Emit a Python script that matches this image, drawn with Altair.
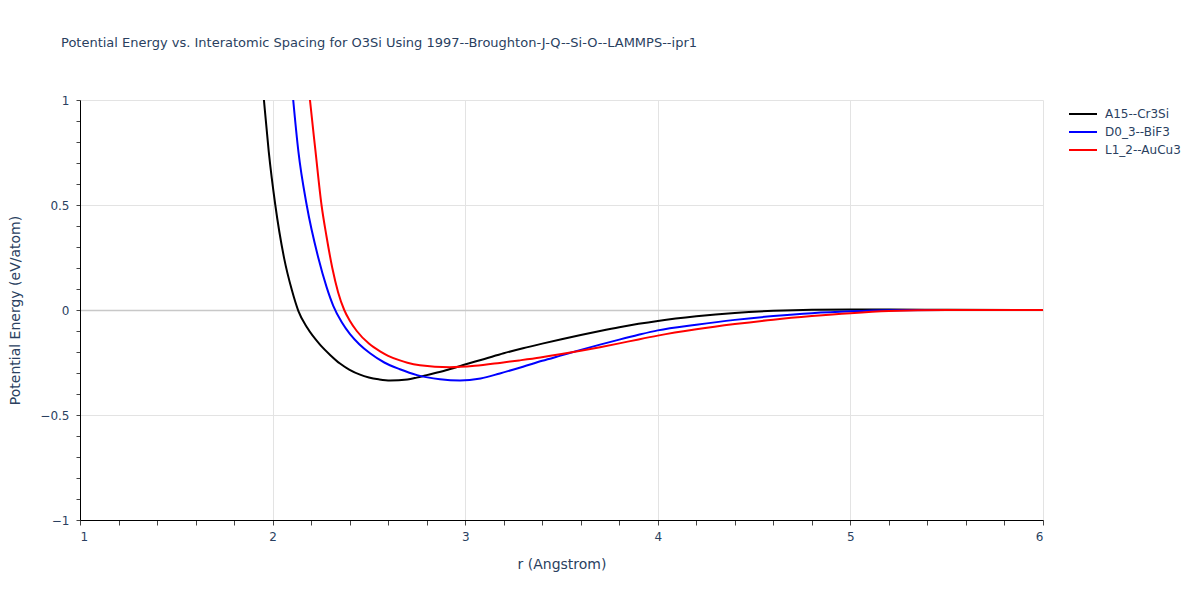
import altair as alt
import pandas as pd

# ---- data ----
r_a15 = [1.9, 1.955, 1.98, 2.014, 2.06, 2.1, 2.134, 2.18, 2.246, 2.3, 2.35, 2.4, 2.454, 2.5, 2.55, 2.61,
         2.7, 2.748, 2.8, 2.9, 2.99, 3.1, 3.2, 3.3, 3.4, 3.5, 3.6, 3.7, 3.8, 3.9, 4.0, 4.2, 4.4, 4.6, 4.8,
         5.0, 5.2, 5.5, 6.0]
e_a15 = [1.6, 1.0, 0.754, 0.5, 0.246, 0.095, -0.005, -0.085, -0.165, -0.215, -0.255, -0.285, -0.308,
         -0.321, -0.33, -0.336, -0.331, -0.322, -0.31, -0.287, -0.262, -0.233, -0.206, -0.182, -0.16, -0.139,
         -0.119, -0.1, -0.082, -0.066, -0.052, -0.03, -0.014, -0.004, 0.001, 0.002, 0.002, 0.001, 0.0]

r_d03 = [2.05, 2.107, 2.134, 2.177, 2.238, 2.28, 2.315, 2.36, 2.402, 2.45, 2.506, 2.58, 2.661, 2.75,
         2.869, 2.973, 3.08, 3.18, 3.3, 3.4, 3.5, 3.6, 3.7, 3.8, 3.9, 4.0, 4.2, 4.4, 4.6, 4.8, 5.0, 5.2,
         5.5, 6.0]
e_d03 = [1.65, 1.0, 0.754, 0.5, 0.246, 0.11, 0.02, -0.06, -0.115, -0.163, -0.206, -0.25, -0.282, -0.31,
         -0.33, -0.336, -0.326, -0.302, -0.27, -0.242, -0.216, -0.19, -0.165, -0.141, -0.118, -0.097,
         -0.07, -0.047, -0.029, -0.015, -0.006, -0.001, 0.0, 0.0]

r_l12 = [2.15, 2.194, 2.223, 2.254, 2.28, 2.31, 2.34, 2.372, 2.4, 2.437, 2.5, 2.558, 2.6, 2.661, 2.7,
         2.765, 2.92, 3.05, 3.18, 3.28, 3.39, 3.5, 3.6, 3.7, 3.8, 3.9, 4.0, 4.2, 4.4, 4.6, 4.8, 5.0, 5.2,
         5.5, 6.0]
e_l12 = [1.45, 1.0, 0.754, 0.5, 0.35, 0.2, 0.085, 0.0, -0.05, -0.1, -0.16, -0.197, -0.218, -0.24, -0.251,
         -0.263, -0.273, -0.266, -0.252, -0.24, -0.226, -0.21, -0.194, -0.177, -0.159, -0.14, -0.122,
         -0.092, -0.067, -0.046, -0.029, -0.015, -0.005, 0.0, 0.0]

series_names = ["A15--Cr3Si", "D0_3--BiF3", "L1_2--AuCu3"]
series_colors = ["#000000", "#0000ff", "#ff0000"]

x_tick_values = [round(1 + 0.2 * i, 1) for i in range(26)]
y_tick_values = [round(-1 + 0.1 * i, 1) for i in range(21)]

rows = []
for name, rs, es in zip(series_names, [r_a15, r_d03, r_l12], [e_a15, e_d03, e_l12]):
    for i, (r, e) in enumerate(zip(rs, es)):
        rows.append({"r": r, "energy": e, "structure": name, "order": i})
df = pd.DataFrame(rows)

FONT = "DejaVu Sans"
TXT = "#2a3f5f"
HALF = "abs(datum.value * 2 - round(datum.value * 2)) < 1e-6"

chart = alt.Chart(df).mark_line(strokeWidth=2, clip=True, interpolate="monotone").encode(
    x=alt.X("r:Q", title="r (Angstrom)",
            scale=alt.Scale(domain=[1, 6], nice=False, zero=False),
            axis=alt.Axis(values=x_tick_values,
                          labelExpr="abs(datum.value - round(datum.value)) < 1e-6 ? datum.label : ''",
                          format="~g",
                          gridOpacity={"condition": {"test": "abs(datum.value - round(datum.value)) < 1e-6", "value": 1}, "value": 0},
                          gridColor="#e3e3e3", tickSize=5, tickColor="#444444",
                          domainColor="#000000", domainWidth=1,
                          labelPadding=6, labelFontSize=12, labelColor=TXT, labelFont=FONT,
                          titleFontSize=14, titleColor=TXT, titleFont=FONT, titleFontWeight="normal",
                          titlePadding=15)),
    y=alt.Y("energy:Q", title="Potential Energy (eV/atom)",
            scale=alt.Scale(domain=[-1, 1], nice=False),
            axis=alt.Axis(values=y_tick_values, format="~g",
                          labelExpr=f"{HALF} ? replace(datum.label, '-', '\u2212') : ''",
                          gridOpacity={"condition": {"test": HALF, "value": 1}, "value": 0},
                          gridColor={"condition": {"test": "datum.value === 0", "value": "#c8c8c8"}, "value": "#e3e3e3"},
                          gridWidth={"condition": {"test": "datum.value === 0", "value": 1.5}, "value": 1},
                          tickSize=4, tickColor="#444444", domainColor="#000000", labelPadding=7,
                          labelFontSize=12, labelColor=TXT, labelFont=FONT,
                          titleFontSize=14, titleColor=TXT, titleFont=FONT, titleFontWeight="normal",
                          titlePadding=17)),
    color=alt.Color("structure:N", title=None,
                    scale=alt.Scale(domain=series_names, range=series_colors),
                    legend=alt.Legend(orient="none", legendX=988, legendY=6, padding=0,
                                      symbolType="stroke", symbolSize=784, symbolStrokeWidth=2,
                                      clipHeight=16, rowPadding=2,
                                      labelFontSize=12, labelColor=TXT, labelFont=FONT, labelOffset=7)),
    order="order:Q",
).properties(
    width=963, height=420,
    title=alt.TitleParams("Potential Energy vs. Interatomic Spacing for O3Si Using 1997--Broughton-J-Q--Si-O--LAMMPS--ipr1",
                          anchor="start", frame="group", dx=-19, offset=44, fontSize=13, font=FONT,
                          fontWeight="normal", color=TXT),
    autosize=alt.AutoSizeParams(type="none"),
    padding={"left": 72, "top": 92, "right": 140, "bottom": 60},
).configure_view(stroke=None)

chart.save("out.html", embed_options={"renderer": "svg", "actions": False})
